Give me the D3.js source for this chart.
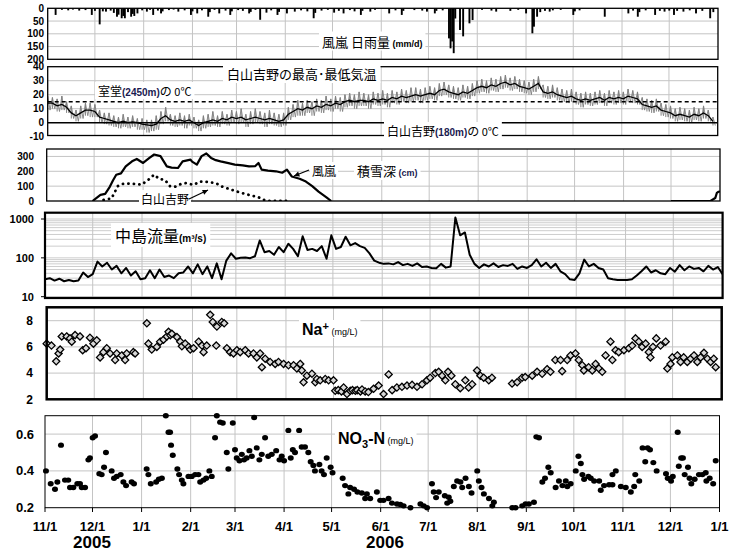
<!DOCTYPE html>
<html>
<head>
<meta charset="utf-8">
<script src="https://cdnjs.cloudflare.com/ajax/libs/d3/7.8.5/d3.min.js"></script>
<style>
  body { margin: 0; background: #fff; }
  text { font-family: "Liberation Sans", Arial, sans-serif; }
</style>
</head>
<body>
<svg id="chart" width="734" height="555"></svg>
<script>
// ---- データ (日 = 2005/11/1 からの経過日数) ----
const startDate = new Date(2005, 10, 1);
const endDate = new Date(2007, 0, 1);
const yearLabels = [["2005", 92], ["2006", 385]];

// 風嵐 日雨量 (mm/d)
const rainDay = [5,9,13,16,20,24,28,30,33,35,37,40,42,44,45,47,48,49,51,53,54,55,57,60,63,65,67,70,72,73,77,80,83,87,91,92,95,98,102,103,106,109,113,116,117,121,124,128,129,132,135,139,142,146,147,152,157,161,165,169,170,174,178,182,185,188,192,195,199,200,205,208,217,221,225,226,233,238,241,246,247,251,255,256,257,258,259,262,264,268,270,276,282,285,294,299,304,308,309,311,313,316,319,321,326,334,335,338,354,369,372,375,376,380,386,389,392,395,398,400,404,408,412,416,421,423];
const rainMM  = [26,6,8,5,9,7,26,10,63,12,13,9,18,33,25,39,30,39,15,33,22,30,20,8,13,6,26,9,20,12,7,5,13,8,26,12,20,8,33,15,6,20,9,26,12,7,10,20,14,6,45,17,8,26,14,20,13,8,12,39,18,9,6,17,10,20,7,12,26,10,13,6,20,8,26,10,7,9,13,20,10,8,118,157,130,176,40,85,110,59,46,6,9,13,10,6,20,98,72,33,15,10,13,8,6,26,12,8,33,20,9,33,15,8,26,10,13,9,26,10,13,8,20,10,39,15];

// 白山吉野の気温 (3日ごと: 平均・最高・最低)
const tempStep = 3;
const tempMean = [14,14,12,13,11,7,5,7,9,9,8,4,3,2,1,0,1,0,0.5,0,-1,-1.5,-2,-1,3,5,2,1,2,1,2,0,-2,0,1,2,1,3,2,4,3,4,2,3,4,3,2,3,2,1,2,6,8,10,9,11,10,12,11,13,12,14,13,15,16,15,16,16,15,17,16,17,16,18,17,19,18,19,20,19,20,21,20,23,24,22,21,20,22,21,23,25,26,25,27,26,28,29,27,28,26,25,24,26,28,22,21,22,20,19,18,19,17,16,17,16,17,18,16,18,17,18,17,19,18,17,13,12,11,12,9,8,7,5,6,5,4,6,5,7,5,1];
const tempMax  = [19,18,17,19,15,12,9,12,14,14,13,9,7,7,5,4,6,4,5,3,3,2,2,5,8,11,6,5,7,5,6,4,2,5,6,8,5,8,6,9,8,10,6,8,10,8,7,9,7,6,7,11,13,16,14,16,15,17,16,19,17,19,18,20,21,20,22,21,20,22,21,23,21,23,22,24,23,25,25,24,25,26,25,28,29,27,26,25,27,26,28,30,31,30,32,31,33,34,32,33,31,30,29,31,33,27,26,27,25,24,23,24,22,21,22,21,22,23,21,23,22,23,22,24,23,22,18,17,16,17,14,13,12,10,11,10,9,11,10,12,9,4];
const tempMin  = [9,10,8,9,7,3,1,3,5,4,4,0,-1,-2,-3,-4,-3,-4,-3,-5,-5,-7,-6,-5,-1,1,-2,-3,-2,-4,-2,-4,-6,-4,-3,-2,-3,-1,-2,0,-1,0,-3,-1,0,-1,-3,-1,-2,-3,-2,2,4,5,5,7,5,8,7,9,8,10,8,11,12,10,12,12,10,13,12,13,11,14,13,15,14,15,16,14,16,17,16,19,20,18,17,16,18,17,19,21,22,21,23,22,24,25,23,24,22,21,20,22,24,18,17,18,16,15,14,15,13,11,13,12,13,14,12,14,13,14,13,15,14,13,9,8,7,8,5,4,3,1,2,1,0,2,1,3,1,-2];
const tempRoof = 15;   // 室堂(2450m)の0℃ に相当する吉野の気温

// 積雪深 (cm)
const snowKazeDay = [29,32,34,37,40,42,44,47,50,54,57,61,65,68,72,76,79,83,86,91,92,95,98,101,104,107,110,115,119,124,128,132,134,136,140,145,149,152,155,160,164,168,172,177,180];
const snowKaze    = [0,25,41,48,97,140,177,186,233,267,283,256,290,313,302,233,225,222,267,278,265,245,302,320,290,275,267,255,245,240,233,235,256,211,205,200,190,211,165,150,131,100,63,25,0];
const snowKazeDay2 = [395,420,423,424,425,426];
const snowKaze2    = [0,0,20,55,62,64];
const snowYoshinoDay = [36,41,45,48,51,55,60,64,68,71,75,78,81,85,88,93,97,102,107,111,117,124,128,134,138,142,148,153];
const snowYoshino    = [7,17,100,115,118,115,110,140,177,150,140,100,95,115,120,109,131,128,120,97,75,52,41,25,5,0,0,0];

// 中島流量 (m3/s, 3日ごと)
const flowStep = 3;
const flow = [28,30,26,29,25,27,25,26,42,32,38,80,60,75,50,62,40,55,35,45,28,30,48,30,50,32,35,30,40,42,60,40,68,38,60,30,72,28,85,130,95,100,102,98,110,280,140,150,120,190,140,230,170,110,360,160,170,150,200,95,380,170,190,350,210,240,200,180,130,85,75,70,72,68,78,65,70,62,72,58,60,55,54,70,56,60,1100,380,450,120,70,55,68,60,72,58,65,62,70,52,60,55,65,92,60,75,55,70,45,38,28,27,40,90,60,70,55,50,30,28,27,27,27,28,35,45,60,42,48,40,38,55,44,65,48,60,52,55,45,62,50,58,38];

// Na+ (mg/L)
const naDay = [0,3,6,7.5,8.5,9.5,12.6,14.7,15.8,17.9,21,22.7,24.8,27.3,29.5,31.6,33.7,35.8,37.9,40,43.2,44.2,47.4,49.5,50.5,54.7,55.8,63.2,64.2,66.3,69.5,71.6,73.7,75.8,76.9,78,79,82.2,84.3,85.3,87.4,89.6,90.6,92.7,95.9,98,99,101,103.2,104.8,107.4,110.5,112,107,113.7,115.8,117.9,120,122.1,125.3,127.4,130.5,132.6,134.7,135.8,137.9,141,144.2,146.3,149.5,152.6,155.8,157.9,160,161,162.1,164.2,167.4,169.5,170.5,172.6,175.8,177.9,181,182.1,184,186,187.4,189.5,191.6,193,194.8,196,198,199,201,203,206.3,209.5,212.6,215.8,218,221,224.2,227.4,230.6,233.7,236.9,240,242,245.3,247.4,249.5,251.6,253.3,255.4,257.9,261,264.2,266.3,268.5,271.6,273.7,275.8,279,281,293.7,296.9,300,302,306.4,309.5,312.7,315.8,317.9,321,324.3,325.3,328.5,330.6,333.7,335.8,338,339,342,344.3,346.4,348.5,350.6,352.7,355.8,357,359,361,364.3,367.4,369.5,371.6,373.7,375.8,378,380,381,382.6,384.7,387.4,390.6,391.7,393.7,394.8,398,400,402,404.3,406.4,408.5,410.6,412.7,414.8,417,419,421,422.2];
const naVal = [6.25,6.1,4.9,5.5,5.8,6.8,6.8,6.65,6.4,6.9,6.8,5.75,5.9,6.7,6.25,6.5,5.2,5.6,5.9,5.5,5.0,5.5,5.35,5.0,5.5,5.6,5.5,7.8,6.25,5.8,6.0,6.4,6.55,6.8,7.15,6.9,7.0,6.75,6.4,6.05,6.25,6.0,5.8,5.9,6.4,6.1,5.6,6.1,8.45,7.9,7.55,7.9,7.8,6.1,5.9,5.6,5.5,5.75,5.6,5.75,5.5,5.5,5.2,5.5,4.45,5.1,4.85,4.7,4.85,4.7,4.6,4.6,4.35,4.7,4.2,3.3,3.8,3.95,3.3,3.55,3.45,3.55,3.45,3.45,2.65,2.7,2.6,2.9,2.4,2.65,2.7,2.65,2.7,2.6,2.75,2.6,2.55,2.8,3.05,2.4,3.9,2.7,2.9,2.95,3.05,3.1,2.95,3.15,3.45,3.65,4.0,4.1,3.8,3.45,4.1,3.8,3.15,2.85,3.45,2.9,3.15,4.2,3.8,3.65,3.45,3.65,3.2,3.3,3.65,3.7,3.8,4.1,3.95,4.3,4.1,5.0,5.0,4.15,5.0,5.35,5.5,5.0,4.6,4.2,4.45,4.2,4.7,4.35,4.1,5.35,6.4,5.0,5.75,5.6,5.75,5.9,6.1,6.65,6.4,6.0,6.25,5.6,5.2,6.0,6.65,6.1,6.4,4.35,4.7,5.2,5.35,4.85,5.2,4.85,5.1,5.35,4.85,5.2,5.55,5.1,4.85,5.1,4.45];

// NO3-N (mg/L)
const no3Day = [0.6,3.6,6.3,7.8,10.1,12.6,14.7,15.8,17.9,20.4,22.1,23.2,25.3,27.4,28.4,30.1,31.6,34.3,35.8,37.3,38.5,42.1,43.6,45.3,47.8,49.5,51.2,54.7,56.2,64.2,65.3,66.8,70.2,71.9,73.8,76.3,78,79,79.6,80.7,83.6,84.7,86.4,87.4,90.6,92.7,94.8,96.9,98,100.1,101.8,103.8,105.3,107.4,108.5,110.6,112.3,114.8,115.8,118.6,120,121.1,122.8,124.3,125.7,127.4,129.1,130.6,132.1,133.7,135.4,136.9,139,141,143.2,146,148.1,149.5,151,153.7,155.2,156.5,157.9,160.5,162.1,164.2,166.3,167.8,169.5,170.5,173.3,174.7,176.2,177.9,180.4,181.6,188,189.5,191.6,192.7,195.2,197.3,200.1,202.2,203.3,205.4,209.6,211.7,213.8,217,219.1,222.3,224.4,226.5,230.8,237.1,239.2,241.3,244.4,245.5,247,248.7,252.5,254,255,256,258.2,260.3,262.4,263.5,265.6,267.7,269.4,273,274,275.7,277.2,280.4,282.5,283.5,295.1,297.2,301.4,303.5,305.6,308.8,310.3,312,314.1,315.8,317.9,319.4,322.5,324.6,326.8,328.9,329.9,332,335.2,336.9,338.4,339.4,340.5,343.2,344.7,346.8,350,351,353.1,356.3,358.4,358.4,360.5,363.7,366.8,370,372.1,372.8,375.3,377.4,380.6,379.1,382.1,384.2,386.3,392.2,393.3,395.4,396.5,399.6,400.3,401.8,402.9,404,406.1,407.1,408.2,410.3,413,415.2,417.3,417.7,419.8,422,423.6];
const no3Val = [0.40,0.33,0.30,0.34,0.54,0.35,0.35,0.31,0.31,0.33,0.33,0.31,0.31,0.46,0.47,0.58,0.59,0.385,0.38,0.42,0.50,0.40,0.36,0.37,0.38,0.34,0.32,0.34,0.33,0.41,0.38,0.33,0.34,0.355,0.36,0.70,0.61,0.61,0.54,0.485,0.41,0.38,0.35,0.33,0.37,0.37,0.38,0.38,0.34,0.35,0.36,0.40,0.37,0.58,0.70,0.665,0.66,0.50,0.41,0.66,0.515,0.47,0.455,0.49,0.46,0.47,0.51,0.48,0.69,0.525,0.46,0.49,0.58,0.48,0.49,0.51,0.46,0.48,0.455,0.62,0.47,0.515,0.50,0.62,0.53,0.53,0.50,0.45,0.43,0.40,0.435,0.40,0.38,0.47,0.42,0.39,0.36,0.32,0.275,0.31,0.30,0.285,0.28,0.25,0.275,0.25,0.285,0.24,0.24,0.25,0.225,0.22,0.218,0.21,0.20,0.22,0.21,0.20,0.33,0.285,0.255,0.285,0.265,0.225,0.257,0.235,0.315,0.345,0.34,0.31,0.36,0.315,0.28,0.40,0.345,0.31,0.275,0.25,0.21,0.23,0.20,0.20,0.21,0.22,0.22,0.23,0.585,0.58,0.34,0.36,0.42,0.39,0.31,0.345,0.32,0.345,0.315,0.33,0.40,0.48,0.44,0.38,0.355,0.37,0.36,0.345,0.345,0.295,0.32,0.325,0.325,0.38,0.40,0.315,0.31,0.285,0.315,0.38,0.345,0.525,0.525,0.45,0.515,0.445,0.40,0.385,0.36,0.345,0.37,0.61,0.425,0.47,0.47,0.38,0.42,0.36,0.33,0.355,0.38,0.38,0.39,0.345,0.36,0.33,0.455];

// ---- 描画 ----
const CJK = "'Noto Sans CJK JP', sans-serif";
const LAT = "'Liberation Sans', Arial, sans-serif";
const GRID = "#c4c4c4";
const totalDays = d3.timeDay.count(startDate, endDate);
const monthDays = d3.timeMonth.range(startDate, d3.timeDay.offset(endDate, 1))
  .map(m => d3.timeDay.count(startDate, m));
const monthFmt = d3.timeFormat("%-m/%-d");
const monthNames = d3.timeMonth.range(startDate, d3.timeDay.offset(endDate, 1)).map(monthFmt);

const svg = d3.select("#chart");

function makePanel(p) {
  const g = svg.append("g");
  const x = d3.scaleLinear().domain([0, totalDays]).range([p.x0, p.x1]);
  const y = (p.log ? d3.scaleLog() : d3.scaleLinear()).domain(p.domain).range(p.range);
  const id = "clip" + p.name;
  svg.append("clipPath").attr("id", id).append("rect")
    .attr("x", p.x0).attr("y", p.y0).attr("width", p.x1 - p.x0).attr("height", p.y1 - p.y0);
  // 横グリッド
  g.selectAll(".hg").data(p.grid).enter().append("line")
    .attr("x1", p.x0).attr("x2", p.x1)
    .attr("y1", d => y(d)).attr("y2", d => y(d))
    .attr("stroke", p.gridColor || GRID).attr("stroke-width", 1);
  // 縦グリッド(月)
  g.selectAll(".vg").data(monthDays.slice(1, -1)).enter().append("line")
    .attr("x1", d => x(d)).attr("x2", d => x(d))
    .attr("y1", p.y0).attr("y2", p.y1)
    .attr("stroke", GRID).attr("stroke-width", 1);
  // 目盛ラベル
  g.selectAll(".yl").data(p.ticks).enter().append("text")
    .attr("x", p.labelX).attr("y", d => y(d))
    .attr("dy", "0.35em").attr("text-anchor", "end")
    .style("font-size", p.fontSize + "px").style("font-weight", "bold")
    .text(p.fmt || (d => d));
  if (p.tickMarks) {
    g.selectAll(".ytk").data(p.ticks).enter().append("line")
      .attr("x1", p.x0 - 4).attr("x2", p.x0)
      .attr("y1", d => y(d)).attr("y2", d => y(d))
      .attr("stroke", "#000");
  }
  const plot = g.append("g").attr("clip-path", `url(#${id})`);
  const top = svg.append("g");
  const frame = () => top.append("rect")
    .attr("x", p.x0).attr("y", p.y0).attr("width", p.x1 - p.x0).attr("height", p.y1 - p.y0)
    .attr("fill", "none").attr("stroke", "#000").attr("stroke-width", p.frame);
  return { g, x, y, plot, top, frame };
}

function label(g, x, y, parts, pad = 3) {
  const t = g.append("text").attr("x", x).attr("y", y);
  parts.forEach(p => {
    const s = t.append("tspan").text(p.t)
      .style("font-size", p.s + "px")
      .style("font-family", p.cjk ? CJK : LAT)
      .style("font-weight", p.b ? "bold" : "normal")
      .attr("fill", p.fill || "#000");
    if (p.dy) s.attr("dy", p.dy);
  });
  const bb = t.node().getBBox();
  g.insert("rect", () => t.node())
    .attr("x", bb.x - pad).attr("y", bb.y)
    .attr("width", bb.width + pad * 2).attr("height", bb.height)
    .attr("fill", "#fff");
  return t;
}

function arrow(g, x1, y1, x2, y2) {
  g.append("line").attr("x1", x1).attr("y1", y1).attr("x2", x2).attr("y2", y2)
    .attr("stroke", "#000").attr("stroke-width", 1.2);
  const a = Math.atan2(y2 - y1, x2 - x1), L = 6, w = 0.45;
  g.append("path")
    .attr("d", `M${x2},${y2}L${x2 - L * Math.cos(a - w)},${y2 - L * Math.sin(a - w)}L${x2 - L * Math.cos(a + w)},${y2 - L * Math.sin(a + w)}Z`)
    .attr("fill", "#000");
}

// ---------- 日雨量 ----------
{
  const P = makePanel({ name: "rain", x0: 47.7, x1: 718, y0: 8.3, y1: 59.3,
    domain: [0, 200], range: [8.3, 59.3], grid: [50, 100, 150], ticks: [0, 50, 100, 150, 200],
    labelX: 44, fontSize: 10, frame: 1.3 });
  P.plot.selectAll("rect.bar").data(rainDay.map((d, i) => ({ d, v: rainMM[i] }))).enter()
    .append("rect")
    .attr("x", d => P.x(d.d) - 0.9).attr("width", 1.9)
    .attr("y", P.y(0)).attr("height", d => P.y(d.v) - P.y(0))
    .attr("fill", "#000");
  P.frame();
  label(P.top, 322, 46.5, [{ t: "風嵐 日雨量", s: 13, cjk: true }, { t: " (mm/d)", s: 9, b: true }]);
}

// ---------- 気温 ----------
{
  const P = makePanel({ name: "temp", x0: 47.7, x1: 717.7, y0: 66.7, y1: 135.5,
    domain: [-10, 40], range: [136.7, 66.7], grid: [10, 20, 30], ticks: [-10, 0, 10, 20, 30, 40],
    labelX: 44, fontSize: 10, frame: 1.3 });
  const pts = tempMean.map((v, i) => ({ d: i * tempStep, m: v, hi: tempMax[i], lo: tempMin[i] }));
  P.plot.selectAll("line.hl").data(pts).enter().append("line")
    .attr("x1", d => P.x(d.d)).attr("x2", d => P.x(d.d))
    .attr("y1", d => P.y(d.hi)).attr("y2", d => P.y(d.lo))
    .attr("stroke", "#808080").attr("stroke-width", 1);
  const zig = d3.line().x(d => P.x(d.d)).y(d => P.y(d.v));
  const zz = [];
  pts.forEach(p => { zz.push({ d: p.d, v: p.hi }); zz.push({ d: p.d + 1.5, v: p.lo }); });
  P.plot.append("path").attr("d", zig(zz)).attr("fill", "none")
    .attr("stroke", "#808080").attr("stroke-width", 0.9);
  P.plot.append("line").attr("x1", P.x(0)).attr("x2", P.x(totalDays))
    .attr("y1", P.y(0)).attr("y2", P.y(0)).attr("stroke", "#000").attr("stroke-width", 1.4);
  P.plot.append("line").attr("x1", P.x(0)).attr("x2", P.x(totalDays))
    .attr("y1", P.y(tempRoof)).attr("y2", P.y(tempRoof))
    .attr("stroke", "#000").attr("stroke-width", 1.5).attr("stroke-dasharray", "4,3");
  P.plot.append("path").datum(pts)
    .attr("d", d3.line().x(d => P.x(d.d)).y(d => P.y(d.m)))
    .attr("fill", "none").attr("stroke", "#000").attr("stroke-width", 1.3);
  P.frame();
  label(P.top, 227, 79, [{ t: "白山吉野の最高･最低気温", s: 13, cjk: true }], 4);
  label(P.top, 98, 96, [{ t: "室堂", s: 12, cjk: true }, { t: "(2450m)", s: 10, b: true, fill: "#1a1a50" },
    { t: "の", s: 12, cjk: true }, { t: " 0℃", s: 11, cjk: true }]);
  label(P.top, 387, 136, [{ t: "白山吉野", s: 12, cjk: true }, { t: "(180m)", s: 10, b: true, fill: "#1a1a50" },
    { t: "の", s: 12, cjk: true }, { t: " 0℃", s: 11, cjk: true }]);
}

// ---------- 積雪深 ----------
{
  const P = makePanel({ name: "snow", x0: 46.7, x1: 720, y0: 149, y1: 201,
    domain: [0, 350], range: [201, 149], grid: [100, 200, 300], ticks: [0, 100, 200, 300],
    labelX: 34, fontSize: 10, frame: 1.3 });
  const ln = d3.line().x(d => P.x(d[0])).y(d => P.y(d[1]));
  P.plot.append("path").attr("d", ln(snowKazeDay.map((d, i) => [d, snowKaze[i]])))
    .attr("fill", "none").attr("stroke", "#000").attr("stroke-width", 2.2).attr("stroke-linejoin", "round");
  P.plot.append("path").attr("d", ln(snowKazeDay2.map((d, i) => [d, snowKaze2[i]])))
    .attr("fill", "none").attr("stroke", "#000").attr("stroke-width", 2.2);
  P.plot.append("path").attr("d", ln(snowYoshinoDay.map((d, i) => [d, snowYoshino[i]])))
    .attr("fill", "none").attr("stroke", "#000").attr("stroke-width", 2.8)
    .attr("stroke-linecap", "round").attr("stroke-dasharray", "0.1,5.4");
  P.frame();
  label(P.top, 312, 176, [{ t: "風嵐", s: 12, cjk: true }], 2);
  label(P.top, 357, 176, [{ t: "積雪深", s: 13, cjk: true }, { t: " (cm)", s: 9, b: true, fill: "#1a1a50" }]);
  label(P.top, 141, 204, [{ t: "白山吉野", s: 12, cjk: true }], 2);
  arrow(P.top, 309, 170, 294, 176);
  arrow(P.top, 189, 199, 208, 190);
}

// ---------- 中島流量 ----------
{
  const minor = [];
  [10, 100, 1000].forEach(b => d3.range(1, 10).forEach(k => { if (b * k <= 1450) minor.push(b * k); }));
  const P = makePanel({ name: "flow", x0: 45, x1: 722.6, y0: 212.7, y1: 298, log: true,
    domain: [10, 1000], range: [296.7, 219], grid: minor, ticks: [10, 100, 1000],
    labelX: 34, fontSize: 11, frame: 2.2, tickMarks: true, gridColor: "#cdcdcd" });
  P.plot.append("path").datum(flow.map((v, i) => [i * flowStep, v]))
    .attr("d", d3.line().x(d => P.x(d[0])).y(d => P.y(d[1])))
    .attr("fill", "none").attr("stroke", "#000").attr("stroke-width", 2).attr("stroke-linejoin", "round");
  P.frame();
  label(P.top, 115, 242, [{ t: "中島流量", s: 16, cjk: true }, { t: "(m³/s)", s: 10, b: true }], 4);
}

// ---------- Na+ ----------
{
  const P = makePanel({ name: "na", x0: 46.7, x1: 721.7, y0: 307.3, y1: 399.3,
    domain: [2, 8], range: [399.3, 320.7], grid: [4, 6, 8], ticks: [2, 4, 6, 8],
    labelX: 33, fontSize: 12, frame: 2.5 });
  const dia = "M0,-3.6L3.6,0L0,3.6L-3.6,0Z";
  P.top.selectAll("path.na").data(naDay.map((d, i) => [d, naVal[i]])).enter()
    .append("path").attr("d", dia)
    .attr("transform", d => `translate(${P.x(d[0])},${P.y(d[1])})`)
    .attr("fill", "#d8d8d8").attr("stroke", "#000").attr("stroke-width", 1.3);
  P.frame();
  label(P.top, 302, 335, [{ t: "Na", s: 16, b: true }, { t: "+", s: 11, b: true, dy: -5 },
    { t: " (mg/L)", s: 9, dy: 5 }], 3);
}

// ---------- NO3-N ----------
{
  const P = makePanel({ name: "no3", x0: 45, x1: 719.5, y0: 415.7, y1: 507.7,
    domain: [0.2, 0.7], range: [507.7, 415.7], grid: [0.4, 0.6], ticks: [0.2, 0.4, 0.6],
    labelX: 34, fontSize: 13, frame: 1, fmt: d3.format(".1f") });
  P.top.selectAll("ellipse").data(no3Day.map((d, i) => [d, no3Val[i]])).enter()
    .append("ellipse")
    .attr("cx", d => P.x(d[0])).attr("cy", d => P.y(d[1]))
    .attr("rx", 3).attr("ry", 2.7).attr("fill", "#000");
  P.frame();
  // 月の目盛
  P.top.selectAll("line.xt").data(monthDays).enter().append("line")
    .attr("x1", d => P.x(d)).attr("x2", d => P.x(d))
    .attr("y1", 507.7).attr("y2", 512).attr("stroke", "#000");
  P.top.selectAll("text.xl").data(monthDays).enter().append("text")
    .attr("x", d => P.x(d)).attr("y", 531).attr("text-anchor", "middle")
    .style("font-size", "13px").style("font-weight", "bold")
    .text((d, i) => monthNames[i]);
  P.top.selectAll("text.yr").data(yearLabels).enter().append("text")
    .attr("x", d => d[1]).attr("y", 548).attr("text-anchor", "middle")
    .style("font-size", "17px").style("font-weight", "bold")
    .text(d => d[0]);
  label(P.top, 338, 444, [{ t: "NO", s: 16, b: true }, { t: "3", s: 11, b: true, dy: 4 },
    { t: "-N", s: 16, b: true, dy: -4 }, { t: "  (mg/L)", s: 9 }], 3);
}
</script>
</body>
</html>
